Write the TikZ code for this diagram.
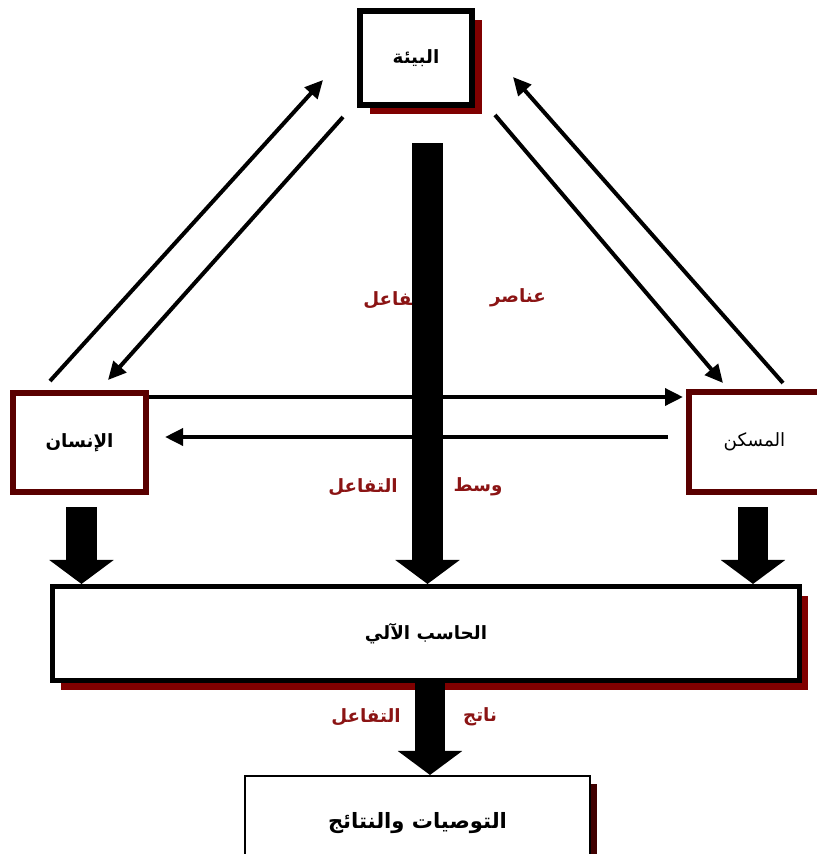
\documentclass[tikz,border=0pt]{standalone}
\usepackage{fontspec}
\newfontfamily\arabicfont[Script=Arabic]{DejaVu Sans}
\TeXXeTstate=1
\usepackage{xcolor}
\usetikzlibrary{arrows.meta,shadows,calc}
\definecolor{shadowred}{RGB}{128,0,0}
\definecolor{boxmaroon}{RGB}{90,0,0}
\definecolor{deepmaroon}{RGB}{64,0,0}
\definecolor{labelred}{RGB}{139,20,20}
\newcommand{\artext}[1]{{\arabicfont\beginR #1\endR}}

\begin{document}
\begin{tikzpicture}[
  x=0.025cm, y=-0.025cm,
  envbox/.style={draw=black, line width=0.15cm, fill=white, font=\fontsize{13}{15}\selectfont\bfseries,
                 minimum width=2.8cm, minimum height=2.35cm, inner sep=0pt,
                 drop shadow={shadow xshift=0.26cm, shadow yshift=-0.22cm, fill=shadowred, opacity=1}},
  sidebox/.style={draw=boxmaroon, line width=0.15cm, fill=white, font=\fontsize{13}{15}\selectfont,
                  minimum height=2.475cm, inner sep=0pt},
  pcbox/.style={draw=black, line width=0.125cm, fill=white, font=\fontsize{13}{15}\selectfont\bfseries,
                minimum width=18.675cm, minimum height=2.35cm, inner sep=0pt,
                drop shadow={shadow xshift=0.22cm, shadow yshift=-0.24cm, fill=shadowred, opacity=1}},
  resbox/.style={draw=black, line width=0.05cm, fill=white, font=\fontsize{15}{17}\selectfont\bfseries,
                 minimum width=8.625cm, minimum height=2.35cm, inner sep=0pt,
                 drop shadow={shadow xshift=0.18cm, shadow yshift=-0.2cm, fill=deepmaroon, opacity=1}},
  arr/.style={-{Triangle[length=0.45cm, width=0.42cm]}, line width=0.1cm},
  blockarr/.style={-{Triangle[length=0.6cm, width=1.58cm]}, line width=0.76cm},
  lbl/.style={font=\fontsize{13}{15}\selectfont\bfseries, text=labelred, inner sep=0pt}
]
  \useasboundingbox (0,0) rectangle (816,854);

  % boxes
  \node[envbox] (bia) at (416,58) {\artext{البيئة}};
  \node[sidebox, minimum width=3.325cm, font=\fontsize{13}{15}\selectfont\bfseries] (insan) at (79.5,442.5) {\artext{الإنسان}};
  \node[sidebox, minimum width=3.275cm] (maskan) at (754.5,442) {\artext{المسكن}};
  \node[pcbox] (hasib) at (426,633.5) {\artext{الحاسب الآلي}};
  \node[resbox] (tawsiyat) at (417.5,823) {\artext{التوصيات والنتائج}};

  % free ends of the connectors
  \coordinate (insanUp) at (50,381);
  \coordinate (biaInL) at (323,80);
  \coordinate (biaOutL) at (343,117);
  \coordinate (insanIn) at (108,380);
  \coordinate (biaOutR) at (495,115);
  \coordinate (maskanIn) at (723,383);
  \coordinate (maskanUp) at (783,383);
  \coordinate (biaInR) at (513,77);
  \coordinate (maskanSide) at (683,397);
  \coordinate (maskanBack) at (668,437);
  \coordinate (insanSide) at (165,437);
  \coordinate (biaTail) at (427.5,143);
  \coordinate (insanTail) at (81.5,507);
  \coordinate (maskanTail) at (753,507);
  \coordinate (hasibTail) at (430,683);

  % labels (drawn before the thick arrow)
  \node[lbl] (anasir) at (518,298) {\artext{عناصر}};
  \node[lbl] (tafaul1) at (398,300) {\artext{التفاعل}};
  \node[lbl] (wasat) at (478,487) {\artext{وسط}};
  \node[lbl] (tafaul2) at (363,487) {\artext{التفاعل}};
  \node[lbl] (natij) at (480,717) {\artext{ناتج}};
  \node[lbl] (tafaul3) at (366,717) {\artext{التفاعل}};

  % thin arrows
  \draw[arr] (insanUp) -- (biaInL);
  \draw[arr] (biaOutL) -- (insanIn);
  \draw[arr] (biaOutR) -- (maskanIn);
  \draw[arr] (maskanUp) -- (biaInR);
  \draw[arr] (insan.east |- maskanSide) -- (maskanSide);
  \draw[arr] (maskanBack) -- (insanSide);

  % block arrows
  \draw[blockarr] (biaTail) -- (biaTail |- hasib.north);
  \draw[blockarr] (insanTail) -- (insanTail |- hasib.north);
  \draw[blockarr] (maskanTail) -- (maskanTail |- hasib.north);
  \draw[blockarr] (hasibTail) -- (hasibTail |- tawsiyat.north);
\end{tikzpicture}
\end{document}
